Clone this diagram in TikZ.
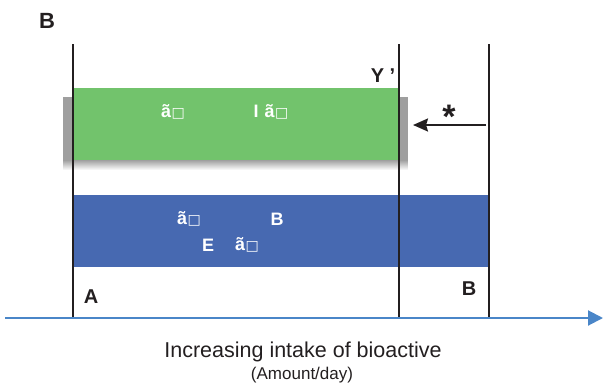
\documentclass[tikz,border=0pt]{standalone}
\usepackage{fontspec}
\setmainfont{Liberation Sans}
\newfontfamily\symfont{DejaVu Sans}
\usetikzlibrary{arrows.meta,fadings}
\definecolor{gbox}{HTML}{72C36C}
\definecolor{bbox}{HTML}{4769B1}
\definecolor{axisblue}{HTML}{4A86C8}
\definecolor{txt}{HTML}{231F20}
\newcommand{\gl}{ã\hspace{0.5pt}{\symfont\mdseries\fontsize{14}{14}\selectfont □}}
\tikzset{
  vline/.style={line width=2pt, draw=txt},
  lbl/.style={font=\bfseries\fontsize{20}{20}\selectfont, text=txt, inner sep=0pt},
  wlbl/.style={font=\bfseries\fontsize{18}{18}\selectfont, text=white, inner sep=0pt},
}
\begin{document}
\begin{tikzpicture}[x=1pt,y=-1pt]
\useasboundingbox (0,0) rectangle (604,388);
% shadow
\fill[gray!75] (63,97) rectangle (408,160);
\fill[gray!75, path fading=south] (63,160) rectangle (408,170);
% boxes
\fill[gbox] (73,88) rectangle (399,160);
\fill[bbox] (73,195) rectangle (489,267);
% vertical lines
\coordinate (l1t) at (73,44); \coordinate (l1b) at (73,318);
\coordinate (l2t) at (399,44); \coordinate (l2b) at (399,318);
\coordinate (l3t) at (489,44); \coordinate (l3b) at (489,318);
\draw[vline] (l1t) -- (l1b);
\draw[vline] (l2t) -- (l2b);
\draw[vline] (l3t) -- (l3b);
% axis
\coordinate (ax0) at (5,318); \coordinate (ax1) at (603,318);
\draw[axisblue, line width=2pt, -{Triangle[length=15pt,width=15pt]}] (ax0) -- (ax1);
% star arrow
\coordinate (sa0) at (486,125); \coordinate (sa1) at (413,125);
\draw[txt, line width=2.2pt, -{Stealth[length=15pt,width=13pt,inset=2pt]}] (sa0) -- (sa1);
\node[font=\bfseries\fontsize{34}{34}\selectfont, text=txt, inner sep=0pt] (star) at (449,117) {*};
% labels
\node[font=\bfseries\fontsize{22}{22}\selectfont, text=txt, inner sep=0pt] (B0) at (47,21) {B};
\node[lbl] (Y) at (383,76) {Y '};
\node[wlbl] (g1) at (173,112) {\gl};
\node[wlbl] (g2) at (271,112) {I\hspace{6pt}\gl};
\node[wlbl] (b1) at (189,219) {\gl};
\node[wlbl] (b2) at (277,219) {B};
\node[wlbl] (b3) at (208,245) {E};
\node[wlbl] (b4) at (247,245) {\gl};
\node[lbl] (A) at (91,297) {A};
\node[lbl] (B1) at (469,289) {B};
\node[font=\fontsize{21.5}{21.5}\selectfont, text=txt, inner sep=0pt] (t1) at (303,352) {Increasing intake of bioactive};
\node[font=\fontsize{17}{17}\selectfont, text=txt, inner sep=0pt] (t2) at (302,375) {(Amount/day)};
\end{tikzpicture}
\end{document}
